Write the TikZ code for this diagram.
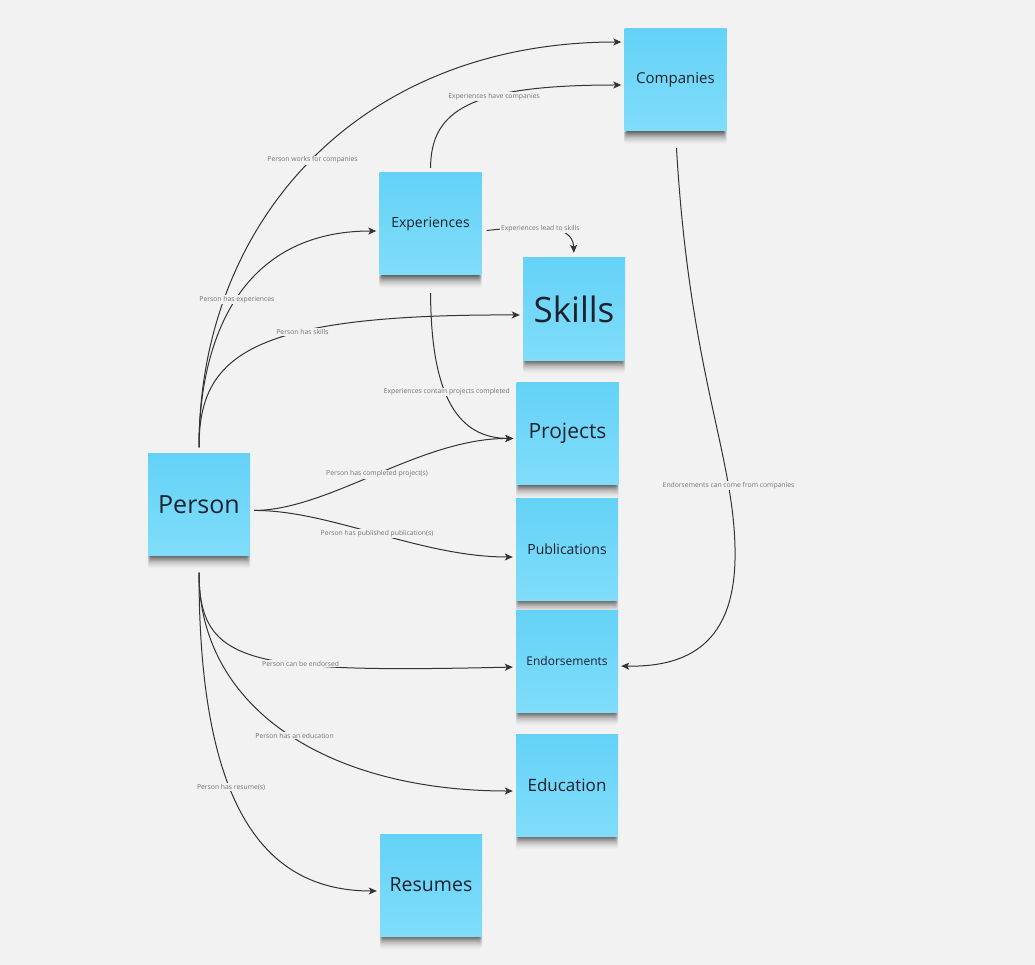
\documentclass[tikz,border=0pt]{standalone}
\usepackage{fontspec}
\setmainfont{Open Sans}
\usetikzlibrary{arrows.meta,backgrounds}
\definecolor{boardgray}{RGB}{242,242,242}
\definecolor{notetop}{RGB}{100,210,247}
\definecolor{notebottom}{RGB}{128,221,250}
\definecolor{notetext}{RGB}{28,34,44}
\definecolor{linkgray}{RGB}{51,51,51}
\definecolor{labelgray}{RGB}{115,115,115}

\begin{document}
\begin{tikzpicture}[x=1pt,y=-1pt,
    note/.style={rectangle, minimum width=102pt, minimum height=102pt, inner sep=0pt,
      top color=notetop, bottom color=notebottom, text=notetext},
    link/.style={draw=linkgray, line width=1pt, -{Stealth[length=8pt,width=7pt,inset=2pt]}, shorten >=3pt},
    lbl/.style={font=\fontsize{6.8}{8}\selectfont, text=labelgray, fill=boardgray, inner sep=1pt}]
        \useasboundingbox (0,0) rectangle (1035,965);

        % Sticky notes
        \node[note, font=\fontsize{15}{18}\selectfont] (comp) at (675.5,80) {Companies};
        \node[note, font=\fontsize{14}{17}\selectfont] (expe) at (430.5,224) {Experiences};
        \node[note, font=\fontsize{35}{40}\selectfont] (skil) at (574,309) {Skills};
        \node[note, font=\fontsize{21}{25}\selectfont] (proj) at (567.5,433.5) {Projects};
        \node[note, font=\fontsize{14}{17}\selectfont] (publ) at (567,549) {Publications};
        \node[note, font=\fontsize{12}{15}\selectfont] (endo) at (567,661) {Endorsements};
        \node[note, font=\fontsize{17}{20}\selectfont] (educ) at (567,785) {Education};
        \node[note, font=\fontsize{19.5}{23}\selectfont] (resu) at (431,885) {Resumes};
        \node[note, font=\fontsize{25}{30}\selectfont] (pers) at (199,504.5) {Person};

        % Board and soft note shadows
        \begin{scope}[on background layer]
            \fill[boardgray] (0,0) rectangle (1035,965);
            \foreach \n in {comp,expe,skil,proj,publ,endo,educ,resu,pers}
                \foreach \s [evaluate=\s as \a using 6+3*\s, evaluate=\s as \b using 13-2*\s] in {0,...,3}
                    \shade[top color=black, bottom color=boardgray, opacity=0.26, rounded corners=3pt]
                        ([xshift=\a pt, yshift=2pt]\n.south west) rectangle ([xshift=-\a pt, yshift=-\b pt]\n.south east);
        \end{scope}

        % Links out of the top of Person
        \draw[link, shorten <=6pt] (pers.north) .. controls (199,220) and (360,42) .. ([yshift=38pt]comp.west)
            node[lbl, pos=.5] (l1) {Person works for companies};
        \draw[link, shorten <=6pt] (pers.north) .. controls (199,340) and (240,231) .. ([yshift=-7pt]expe.west)
            node[lbl, pos=.5] (l2) {Person has experiences};
        \draw[link, shorten <=6pt] (pers.north) .. controls (199,355) and (250,314) .. ([yshift=-6pt]skil.west)
            node[lbl, pos=.63] (l3) {Person has skills};

        % Links out of Experiences
        \draw[link, shorten <=5pt] (expe.north) .. controls (431,110) and (470,85) .. ([yshift=-5pt]comp.west)
            node[lbl, pos=.62] (l4) {Experiences have companies};
        \draw[link, shorten <=5pt, shorten >=5pt] ([yshift=-7pt]expe.east) .. controls (530,226) and (573,222) .. (skil.north)
            node[lbl, pos=.45] (l5) {Experiences lead to skills};
        \draw[link, shorten <=18pt] (expe.south) .. controls (431,400) and (460,438) .. ([yshift=-5pt]proj.west)
            node[lbl, pos=.43] (l6) {Experiences contain projects completed};

        % Links out of the right of Person
        \draw[link, shorten <=4pt] ([yshift=-6pt]pers.east) .. controls (330,510) and (420,438) .. ([yshift=-5pt]proj.west)
            node[lbl, pos=.5] (l7) {Person has completed project(s)};
        \draw[link, shorten <=4pt] ([yshift=-6pt]pers.east) .. controls (330,510) and (420,557) .. ([yshift=-8pt]publ.west)
            node[lbl, pos=.5] (l8) {Person has published publication(s)};

        % Links out of the bottom of Person
        \draw[link, shorten <=17pt] (pers.south) .. controls (199,665) and (250,673) .. ([yshift=-6pt]endo.west)
            node[lbl, pos=.63] (l9) {Person can be endorsed};
        \draw[link, shorten <=17pt] (pers.south) .. controls (199,710) and (330,791) .. ([yshift=-6pt]educ.west)
            node[lbl, pos=.52] (l10) {Person has an education};
        \draw[link, shorten <=17pt] (pers.south) .. controls (199,800) and (260,891) .. ([yshift=-6pt]resu.west)
            node[lbl, pos=.42] (l11) {Person has resume(s)};

        % Companies back down to Endorsements
        \draw[link, shorten <=17pt] (comp.south) .. controls (690,380) and (737,460) .. (735,560)
            node[lbl, pos=.75] (l12) {Endorsements can come from companies}
            .. controls (733,650) and (680,667) .. ([yshift=-5pt]endo.east);
    \end{tikzpicture}
\end{document}
